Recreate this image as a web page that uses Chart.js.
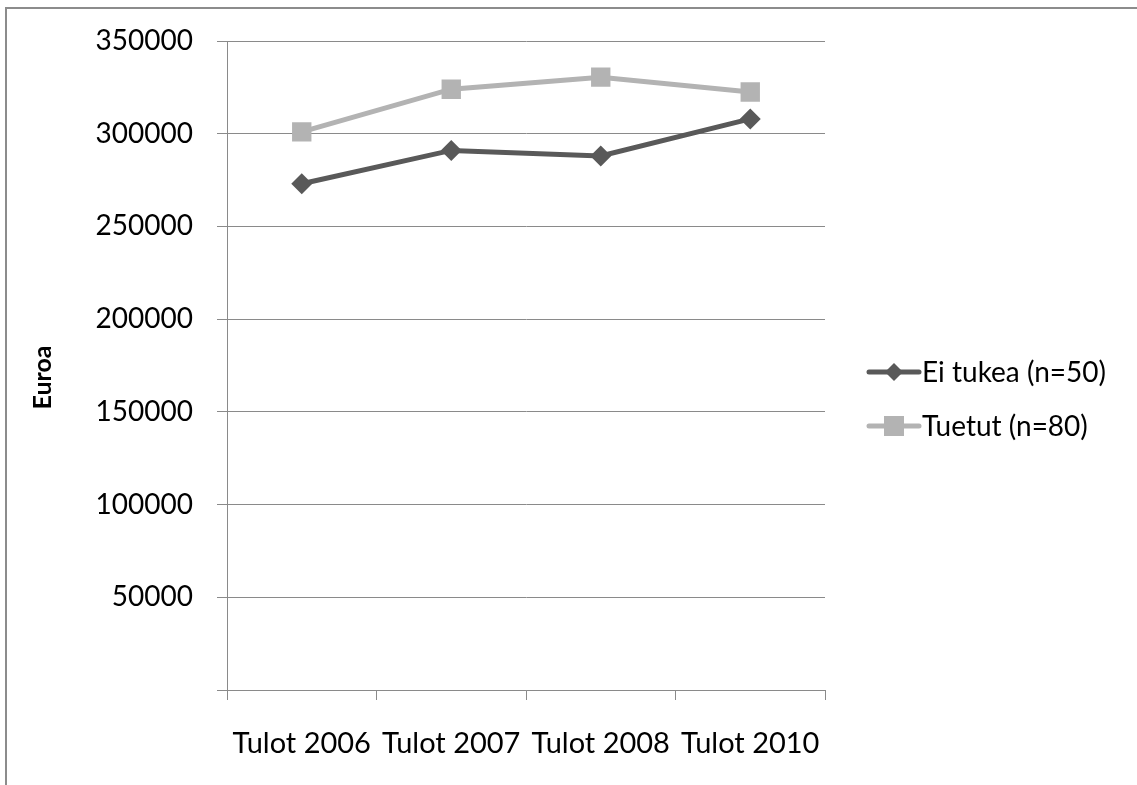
<!DOCTYPE html>
<html>
<head>
<meta charset="utf-8">
<script src="https://cdn.jsdelivr.net/npm/chart.js@4.4.1/dist/chart.umd.min.js"></script>
<style>
  html, body { margin: 0; padding: 0; background: #fff; overflow: hidden; }
  #frame { position: absolute; left: 5px; top: 7px; width: 1200px; height: 900px;
           border: 2px solid #8c8c8c; box-sizing: border-box; }
  #wrap { position: absolute; left: 0; top: 0; width: 1137px; height: 785px; }
</style>
</head>
<body>
<div id="frame"></div>
<div id="wrap"><canvas id="c" width="1137" height="785"></canvas></div>
<script>
// Income per year, euros
const categories = ['Tulot 2006', 'Tulot 2007', 'Tulot 2008', 'Tulot 2010'];
const eiTukea = [273000, 291000, 288000, 308000];
const tuetut = [301000, 324000, 330500, 322500];
const seriesNames = ['Ei tukea (n=50)', 'Tuetut (n=80)'];
const yTicks = [0, 50000, 100000, 150000, 200000, 250000, 300000, 350000];
const yTitle = 'Euroa';

const FONT = 'Lato, "Open Sans", sans-serif';
const axisGray = '#8a8a8a';

// Rotated y-axis title, centred beside the value labels
const yTitlePlugin = {
  id: 'yTitle',
  afterDraw(chart) {
    const ctx = chart.ctx;
    const area = chart.chartArea;
    ctx.save();
    ctx.translate(43, (area.top + area.bottom) / 2 + 12);
    ctx.rotate(-Math.PI / 2);
    ctx.fillStyle = '#000';
    ctx.font = 'bold 25px ' + FONT;
    ctx.textAlign = 'center';
    ctx.textBaseline = 'middle';
    ctx.fillText(yTitle, 0, 0);
    ctx.restore();
  }
};

// Legend drawn as line + marker, to the right of the plot
const sideLegend = {
  id: 'sideLegend',
  afterDraw(chart) {
    const ctx = chart.ctx;
    const rows = [372, 426];
    chart.data.datasets.forEach((ds, i) => {
      const y = rows[i];
      ctx.save();
      ctx.strokeStyle = ds.borderColor;
      ctx.lineWidth = 5;
      ctx.lineCap = 'round';
      ctx.beginPath();
      ctx.moveTo(869, y);
      ctx.lineTo(919, y);
      ctx.stroke();
      ctx.fillStyle = ds.pointBackgroundColor;
      ctx.beginPath();
      if (ds.pointStyle === 'rect') {
        ctx.rect(884, y - 10, 20, 20);
      } else {
        ctx.moveTo(894, y - 9); ctx.lineTo(903, y); ctx.lineTo(894, y + 9); ctx.lineTo(885, y);
        ctx.closePath();
      }
      ctx.fill();
      ctx.fillStyle = '#000';
      ctx.font = '28px ' + FONT;
      ctx.textBaseline = 'middle';
      ctx.textAlign = 'left';
      ctx.fillText(ds.label, 922, y + 1);
      ctx.restore();
    });
  }
};

new Chart(document.getElementById('c'), {
  type: 'line',
  data: {
    labels: categories,
    datasets: [
      {
        label: seriesNames[0],
        data: eiTukea,
        borderColor: '#595959',
        backgroundColor: '#595959',
        pointBackgroundColor: '#595959',
        pointBorderWidth: 0,
        borderWidth: 5,
        pointStyle: 'rectRot',
        pointRadius: 10.5,
        pointHoverRadius: 10.5,
        tension: 0
      },
      {
        label: seriesNames[1],
        data: tuetut,
        borderColor: '#b3b3b3',
        backgroundColor: '#b3b3b3',
        pointBackgroundColor: '#b3b3b3',
        pointBorderWidth: 0,
        borderWidth: 5,
        pointStyle: 'rect',
        pointRadius: 13.7,
        pointHoverRadius: 13.7,
        tension: 0
      }
    ]
  },
  options: {
    responsive: false,
    animation: false,
    events: [],
    layout: { padding: { left: 0, right: 312, top: 41, bottom: 0 } },
    plugins: { legend: { display: false }, tooltip: { enabled: false } },
    scales: {
      x: {
        offset: true,
        grid: {
          offset: true,
          drawOnChartArea: false,
          color: axisGray,
          tickLength: 10,
          tickColor: axisGray
        },
        border: { color: axisGray, width: 1 },
        ticks: { color: '#000', font: { family: FONT, size: 29 }, padding: 26, maxRotation: 0 },
        afterFit(scale) { scale.height = 95; }
      },
      y: {
        min: 0,
        max: 350000,
        afterBuildTicks(scale) { scale.ticks = yTicks.map(v => ({ value: v })); },
        grid: { color: axisGray, tickLength: 10, tickColor: axisGray },
        border: { color: axisGray, width: 1 },
        ticks: {
          color: '#000',
          font: { family: FONT, size: 28 },
          padding: 24,
          callback: v => (v === 0 ? '' : String(v))
        },
        afterFit(scale) { scale.width = 227; }
      }
    }
  },
  plugins: [yTitlePlugin, sideLegend]
});
</script>
</body>
</html>
